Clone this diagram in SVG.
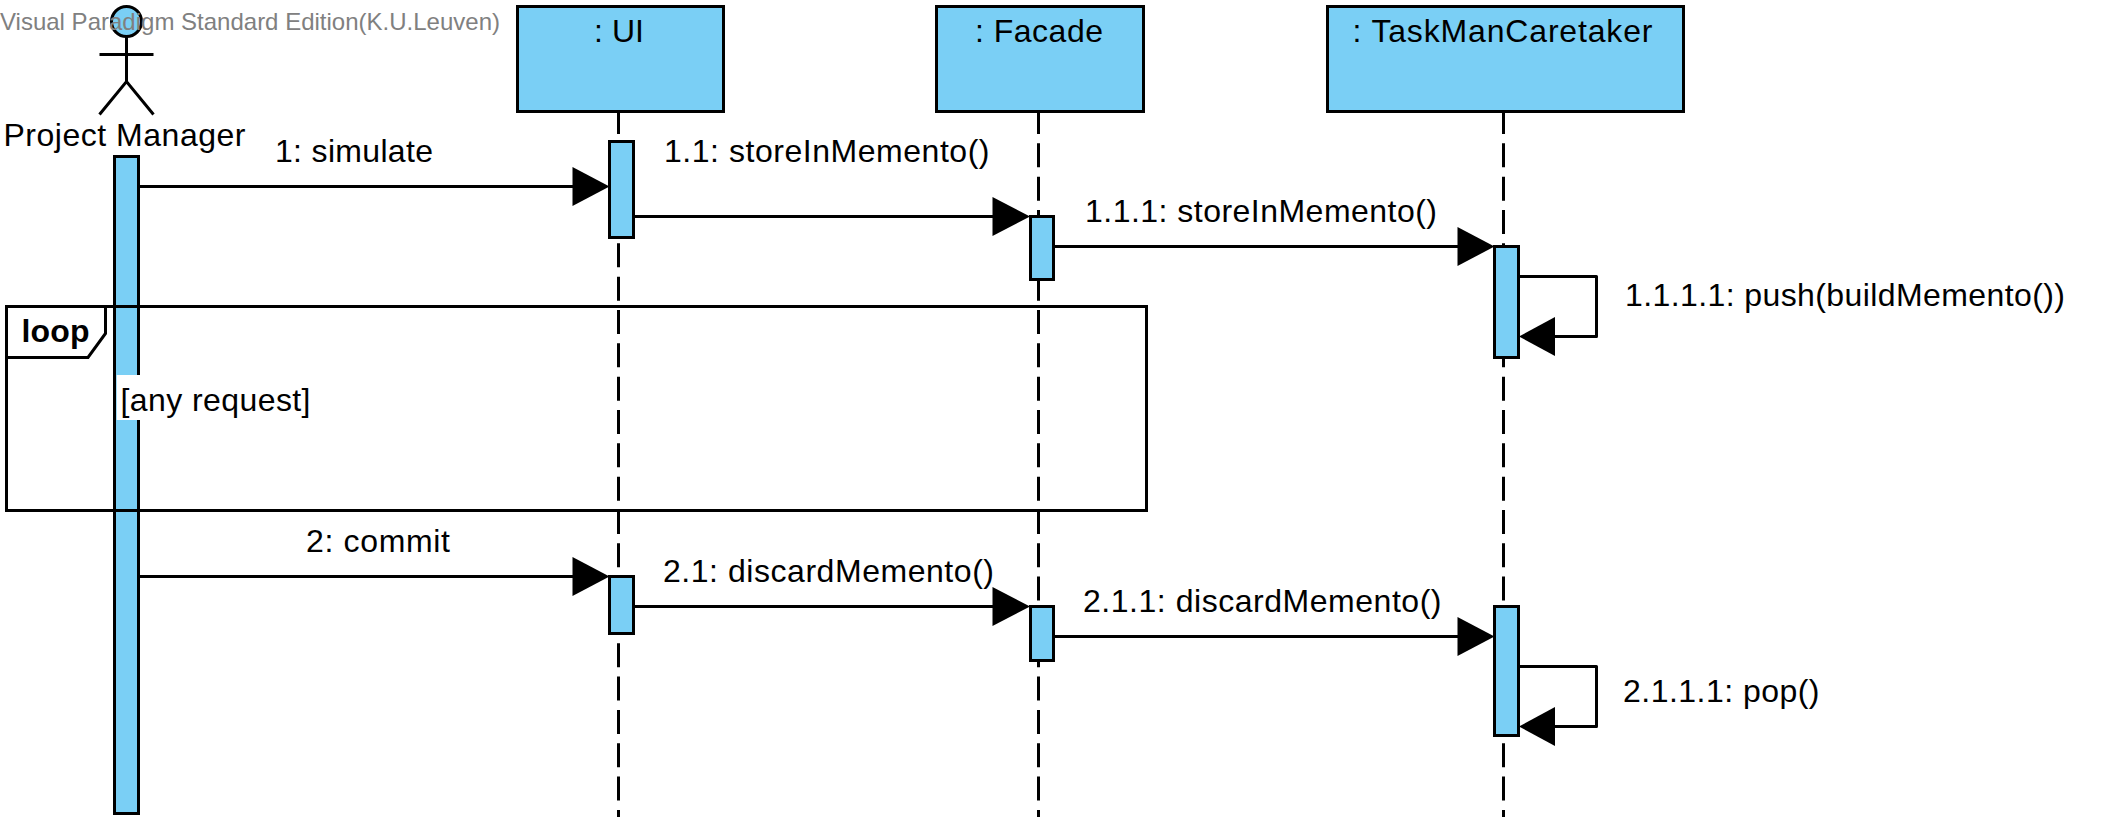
<svg xmlns="http://www.w3.org/2000/svg" width="2112" height="828" viewBox="0 0 2112 828">
<style>
text{font-family:"Liberation Sans",Arial,sans-serif;font-size:32px;fill:#000}
.box{fill:#7ACFF5;stroke:#000;stroke-width:3}
.ll{fill:none;stroke:#000;stroke-width:3;stroke-dasharray:24 9.33}
.msg{fill:none;stroke:#000;stroke-width:3;stroke-linejoin:round}
.ah{fill:#000;stroke:none}
.stick{fill:none;stroke:#000;stroke-width:3}
.wm{font-size:24px;fill:#808080}
</style>
<rect width="2112" height="828" fill="#fff"/>
<g id="lifelines">
<line class="ll" x1="618.5" y1="110" x2="618.5" y2="817"/>
<line class="ll" x1="1038.5" y1="110" x2="1038.5" y2="817"/>
<line class="ll" x1="1503.5" y1="110" x2="1503.5" y2="817"/>
</g>
<g id="actor-project-manager">
<circle class="box" cx="126.5" cy="21.5" r="15"/>
<path class="stick" d="M126.5 36.5V81.5M99.5 54.5H153.5M99.5 114.5L126.5 81.5L153.5 114.5"/>
<text x="3.5" y="146" textLength="242">Project Manager</text>
<rect class="box" x="114.5" y="156.5" width="24" height="657"/>
</g>
<g id="node-ui">
<rect class="box" x="517.5" y="6.5" width="206" height="105"/>
<text x="594" y="41.7" textLength="50">: UI</text>
<rect class="box" x="609.5" y="141.5" width="24" height="96"/>
<rect class="box" x="609.5" y="576.5" width="24" height="57"/>
</g>
<g id="node-facade">
<rect class="box" x="936.5" y="6.5" width="207" height="105"/>
<text x="975" y="41.7" textLength="128">: Facade</text>
<rect class="box" x="1030.5" y="216.5" width="23" height="63"/>
<rect class="box" x="1030.5" y="606.5" width="23" height="54"/>
</g>
<g id="node-caretaker">
<rect class="box" x="1327.5" y="6.5" width="356" height="105"/>
<text x="1352.5" y="41.7" textLength="300">: TaskManCaretaker</text>
<rect class="box" x="1494.5" y="246.5" width="24" height="111"/>
<rect class="box" x="1494.5" y="606.5" width="24" height="129"/>
</g>
<g id="fragment-loop">
<rect x="6.5" y="306.5" width="1140" height="204" fill="none" stroke="#000" stroke-width="3"/>
<path class="stick" d="M105.5 306.5V333.5L88 357.5H6.5"/>
<text x="21.5" y="341.7" font-weight="bold" textLength="68">loop</text>
<rect x="116.7" y="375" width="193" height="45" fill="#fff"/>
<text x="120.5" y="410.7" textLength="190">[any request]</text>
</g>
<g id="connectors">
<path class="msg" d="M138.5 186.5H575"/><polygon class="ah" points="572.5,167 609.5,186.5 572.5,206"/>
<text x="275" y="161.7" textLength="158">1: simulate</text>
<path class="msg" d="M633.5 216.5H995"/><polygon class="ah" points="992.5,197 1030,216.5 992.5,236"/>
<text x="664" y="161.7" textLength="325.5">1.1: storeInMemento()</text>
<path class="msg" d="M1053.5 246.5H1460"/><polygon class="ah" points="1457.5,227 1494.5,246.5 1457.5,266"/>
<text x="1085" y="221.7" textLength="352">1.1.1: storeInMemento()</text>
<path class="msg" d="M1518.5 276.5H1596.5V336.5H1553"/><polygon class="ah" points="1555,317 1519,336.5 1555,356"/>
<text x="1625" y="306" textLength="440">1.1.1.1: push(buildMemento())</text>
<path class="msg" d="M138.5 576.5H575"/><polygon class="ah" points="572.5,557 609.5,576.5 572.5,596"/>
<text x="306" y="551.7" textLength="144">2: commit</text>
<path class="msg" d="M633.5 606.5H995"/><polygon class="ah" points="992.5,587 1030,606.5 992.5,626"/>
<text x="663" y="581.7" textLength="331">2.1: discardMemento()</text>
<path class="msg" d="M1053.5 636.5H1460"/><polygon class="ah" points="1457.5,617 1494.5,636.5 1457.5,656"/>
<text x="1083" y="611.7" textLength="358.5">2.1.1: discardMemento()</text>
<path class="msg" d="M1518.5 666.5H1596.5V726.5H1553"/><polygon class="ah" points="1555,707 1519,726.5 1555,746"/>
<text x="1623" y="701.7" textLength="196.5">2.1.1.1: pop()</text>
</g>
<text class="wm" x="0" y="30" textLength="500">Visual Paradigm Standard Edition(K.U.Leuven)</text>
</svg>
